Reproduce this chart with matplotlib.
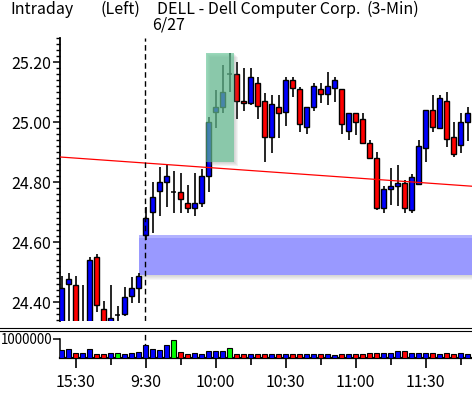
import matplotlib
matplotlib.use('Agg')
import matplotlib.pyplot as plt
from matplotlib.patches import Rectangle
from matplotlib.lines import Line2D
from matplotlib.ticker import MultipleLocator, FixedLocator
import numpy as np

# 3-min bars, previous-day close then 6/27 from 9:30
opens = [24.30, 24.460, 24.457, 24.32, 24.32, 24.550, 24.377, 24.33, 24.357, 24.360,
         24.420, 24.447, 24.623, 24.700, 24.770, 24.800, 24.767, 24.767, 24.730, 24.713,
         24.730, 24.820, 25.033, 25.050, 25.160, 25.160, 25.070, 25.063, 25.130, 25.070,
         24.950, 25.050, 25.033, 25.140, 25.110, 24.983, 25.050, 25.110, 25.093, 25.113,
         25.110, 24.970, 25.030, 25.010, 24.930, 24.880, 24.713, 24.777, 24.787, 24.797,
         24.707, 24.793, 24.913, 25.040, 24.980, 25.070, 24.950, 24.923, 25.000]
highs = [24.487, 24.497, 24.487, 24.457, 24.550, 24.560, 24.404, 24.457, 24.387, 24.450,
         24.483, 24.497, 24.717, 24.800, 24.850, 24.857, 24.837, 24.830, 24.790, 24.830,
         24.843, 25.017, 25.107, 25.190, 25.230, 25.200, 25.180, 25.180, 25.150, 25.097,
         25.090, 25.090, 25.150, 25.150, 25.117, 25.050, 25.130, 25.130, 25.167, 25.150,
         25.110, 25.030, 25.030, 25.030, 24.940, 24.900, 24.787, 24.847, 24.857, 24.807,
         24.827, 24.940, 25.040, 25.090, 25.090, 25.100, 25.000, 25.030, 25.050]
lows = [24.28, 24.30, 24.30, 24.30, 24.30, 24.367, 24.30, 24.30, 24.32, 24.353,
        24.397, 24.397, 24.607, 24.630, 24.687, 24.717, 24.697, 24.697, 24.697, 24.687,
        24.717, 24.767, 24.980, 25.030, 25.100, 25.010, 25.037, 25.057, 25.010, 24.867,
        24.897, 24.947, 24.987, 25.083, 24.967, 24.960, 25.037, 25.063, 25.057, 25.067,
        24.960, 24.940, 24.957, 24.927, 24.877, 24.707, 24.697, 24.723, 24.720, 24.697,
        24.697, 24.790, 24.867, 24.967, 24.977, 24.917, 24.883, 24.897, 24.937]
closes = [24.447, 24.477, 24.32, 24.33, 24.540, 24.390, 24.33, 24.347, 24.357, 24.417,
          24.447, 24.487, 24.680, 24.750, 24.800, 24.820, 24.767, 24.743, 24.713, 24.730,
          24.820, 25.000, 25.050, 25.100, 25.160, 25.070, 25.063, 25.150, 25.053, 24.950,
          25.060, 25.030, 25.140, 25.113, 24.993, 25.050, 25.120, 25.093, 25.120, 25.140,
          24.993, 25.030, 25.000, 24.930, 24.880, 24.713, 24.777, 24.787, 24.797, 24.713,
          24.817, 24.920, 25.040, 24.983, 25.080, 24.943, 24.893, 25.000, 25.030]
volumes = [0.40, 0.46, 0.28, 0.28, 0.46, 0.23, 0.20, 0.28, 0.28, 0.23, 0.28, 0.33,
           0.67, 0.49, 0.44, 0.67, 0.97, 0.32, 0.23, 0.28, 0.20, 0.39, 0.39, 0.35, 0.55,
           0.23, 0.20, 0.23, 0.20, 0.23, 0.23, 0.20, 0.23, 0.20, 0.20, 0.20, 0.20, 0.20,
           0.20, 0.14, 0.20, 0.20, 0.20, 0.20,
           0.28, 0.28, 0.25, 0.28, 0.35, 0.35, 0.25, 0.28, 0.25, 0.28, 0.20, 0.25, 0.20,
           0.28, 0.20]  # millions

time_labels = ['15:30', '9:30', '10:00', '10:30', '11:00', '11:30']
time_ticks = [2, 12, 22, 32, 42, 52]
minor_ticks = [7, 17, 27, 37, 47, 57]
day_break = 11.93
trend_ends = [24.883, 24.787]            # regression line at first / last bar
green_zone = (20.64, 24.64, 24.867, 25.230)  # bar from, bar to, low, high
blue_zone = (11.07, 24.490, 24.623)          # bar from, low, high

W, H = 472, 393
FS = 11.5
plt.rcParams['font.family'] = ['Noto Sans CJK JP', 'DejaVu Sans']

def fx(px):
    return px / W

def fy(py):
    return 1 - py / H

fig = plt.figure(figsize=(W / 100, H / 100), dpi=100)
x = np.arange(len(opens))
xmin, xmax = -0.143, 58.64

# price panel
ax = fig.add_axes([fx(60.5), fy(321), fx(472 - 60.5), fy(38) - fy(321)])
ax.set_xlim(xmin, xmax)
ax.set_ylim(24.3367, 25.28)

o = np.array(opens)
c = np.array(closes)
up = c > o
down = c < o
flat = c == o

ax.vlines(x, lows, highs, color='black', lw=1.2, zorder=3)
bw = 0.62
ax.bar(x[up], (c - o)[up], bottom=o[up], width=bw, color='#0000ff',
       edgecolor='black', linewidth=1.0, zorder=4)
ax.bar(x[down], (o - c)[down], bottom=c[down], width=bw, color='#ff0000',
       edgecolor='black', linewidth=1.0, zorder=4)
ax.hlines(c[flat], x[flat] - bw / 2, x[flat] + bw / 2, color='black', lw=1.1, zorder=4)

# blue support zone with soft edges and shadow
bx0, blo, bhi = blue_zone
py = 1 / 300.0  # price per pixel
px = 1 / 7.0    # bars per pixel
for i in range(1, 6):
    ax.add_patch(Rectangle((bx0 + 2 * px, blo - i * py), xmax - bx0, i * py,
                           facecolor='gray', alpha=0.07, lw=0, zorder=1))
ax.add_patch(Rectangle((bx0, blo), xmax - bx0, bhi - blo,
                       facecolor='#5555ff', alpha=0.6, lw=0, zorder=2))
ax.add_patch(Rectangle((bx0, bhi - 3 * py), xmax - bx0, 3 * py,
                       facecolor='white', alpha=0.25, lw=0, zorder=2))

# green zone with shadow
g0, g1, glo, ghi = green_zone
for i in range(1, 5):
    ax.add_patch(Rectangle((g0 + i * px, glo - i * py), g1 - g0, ghi - glo,
                           facecolor='gray', alpha=0.09, lw=0, zorder=5))
ax.add_patch(Rectangle((g0, glo), g1 - g0, ghi - glo,
                       facecolor='#5cc190', alpha=0.62, lw=0, zorder=6))

# trend line
slope = (trend_ends[1] - trend_ends[0]) / (len(opens) - 1)
ax.plot([xmin, xmax], [trend_ends[0] + slope * xmin, trend_ends[0] + slope * xmax],
        color='#ff0000', lw=0.9, zorder=7)

ax.axvline(day_break, color='black', lw=1.0, dashes=(4, 2.5), zorder=8)

for s in ['top', 'right', 'bottom']:
    ax.spines[s].set_visible(False)
ax.spines['left'].set_linewidth(1.3)
ax.set_xticks([])
ax.yaxis.set_major_locator(MultipleLocator(0.2))
ax.yaxis.set_minor_locator(MultipleLocator(0.02))
ax.yaxis.set_major_formatter(matplotlib.ticker.FormatStrFormatter('%.2f'))
ax.tick_params(axis='y', which='major', length=5, width=1.1, pad=1.5, labelsize=FS)
ax.tick_params(axis='y', which='minor', length=3, width=1.0)

# volume panel
ax2 = fig.add_axes([fx(60.5), fy(358), fx(472 - 60.5), fy(331) - fy(358)])
ax2.set_xlim(xmin, xmax)
ax2.set_ylim(0, 1.42e6)
vcol = ['#0000ff' if u else ('#ff0000' if d else '#00ff00') for u, d in zip(up, down)]
ax2.axvline(day_break, color='black', lw=1.0, dashes=(4, 2.5), zorder=1)
ax2.bar(x, np.array(volumes) * 1e6, width=0.6, color=vcol, edgecolor='black',
        linewidth=0.8, zorder=3)
for s in ['top', 'right']:
    ax2.spines[s].set_visible(False)
ax2.spines['left'].set_bounds(0, 1e6)
ax2.spines['left'].set_linewidth(1.1)
ax2.spines['bottom'].set_linewidth(1.6)
ax2.set_yticks([1e6])
ax2.set_yticklabels(['1000000'])
ax2.tick_params(axis='y', length=5, width=1.1, pad=1, labelsize=9.6)
ax2.xaxis.set_major_locator(FixedLocator(time_ticks))
ax2.xaxis.set_minor_locator(FixedLocator(minor_ticks))
ax2.set_xticklabels(time_labels)
ax2.tick_params(axis='x', which='major', length=7.5, width=1.2, pad=4, labelsize=FS)
ax2.tick_params(axis='x', which='minor', length=5, width=1.2)

# panel separator
for yy in [328, 331]:
    fig.add_artist(Line2D([0, 1], [fy(yy), fy(yy)], transform=fig.transFigure,
                          color='black', lw=0.8))

# header
fig.text(fx(10), fy(9), 'Intraday', va='center', ha='left', fontsize=FS)
fig.text(fx(100), fy(9), '(Left)', va='center', ha='left', fontsize=FS)
fig.text(fx(157), fy(9), 'DELL - Dell Computer Corp.', va='center', ha='left', fontsize=FS)
fig.text(fx(367), fy(9), '(3-Min)', va='center', ha='left', fontsize=FS)
fig.text(fx(152), fy(25), '6/27', va='center', ha='left', fontsize=FS)

fig.savefig('out.png', dpi=100)
